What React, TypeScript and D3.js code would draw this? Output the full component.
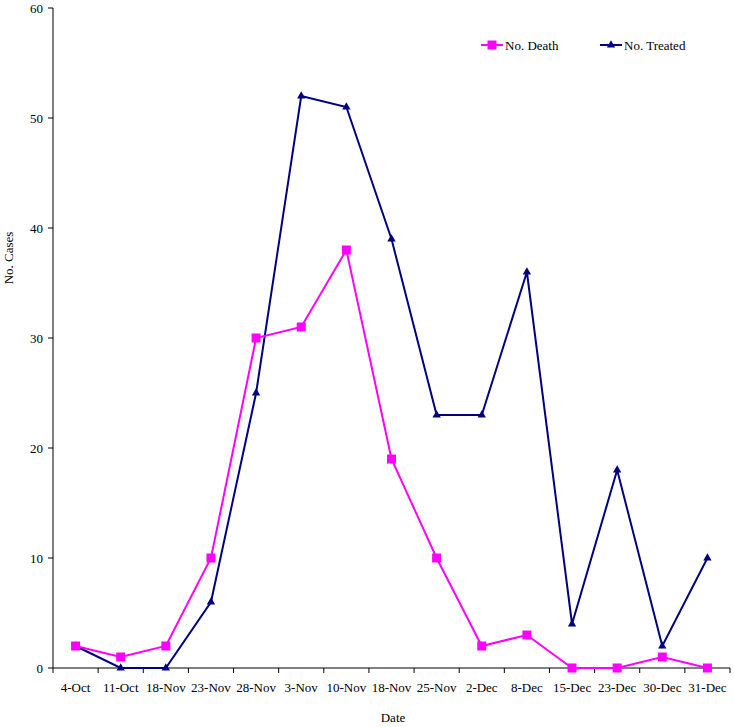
import React from "react";
import * as d3 from "d3";

const categories = ["4-Oct","11-Oct","18-Nov","23-Nov","28-Nov","3-Nov","10-Nov","18-Nov","25-Nov","2-Dec","8-Dec","15-Dec","23-Dec","30-Dec","31-Dec"];
const deaths = [2,1,2,10,30,31,38,19,10,2,3,0,0,1,0];
const treated = [2,0,0,6,25,52,51,39,23,23,36,4,18,2,10];
const yTicks = [0,10,20,30,40,50,60];

const W = 734, H = 727;
const left = 53, right = 730, top = 8, bottom = 668;
const font = "'Liberation Serif', 'Times New Roman', serif";
const PINK = "#FF00FF", NAVY = "#000080";

export default function App() {
  const x = d3.scaleBand<number>().domain(d3.range(categories.length)).range([left, right]);
  const y = d3.scaleLinear().domain([0, 60]).range([bottom, top]);
  const cx = (i: number) => (x(i) as number) + x.bandwidth() / 2;
  const line = d3.line<number>().x((_, i) => cx(i)).y(d => y(d));
  const tri = d3.symbol().type(d3.symbolTriangle).size(30)();
  const edges = d3.range(categories.length + 1).map(i => left + i * x.bandwidth());
  return (
    <svg width={W} height={H} style={{ position: "absolute", left: 0, top: 0, background: "#fff" }} fontFamily={font}>
      <line x1={left} x2={left} y1={top} y2={bottom} stroke="#000" />
      <line x1={left} x2={right} y1={bottom} y2={bottom} stroke="#000" />
      {yTicks.map(t => (
        <g key={t}>
          <line x1={left - 5} x2={left} y1={y(t)} y2={y(t)} stroke="#000" />
          <text x={left - 10} y={y(t)} dy="0.35em" textAnchor="end" fontSize={13}>{t}</text>
        </g>
      ))}
      {edges.map((e, i) => (
        <line key={i} x1={e} x2={e} y1={bottom} y2={bottom + 5} stroke="#000" />
      ))}
      {categories.map((c, i) => (
        <text key={i} x={cx(i)} y={692} textAnchor="middle" fontSize={13}>{c}</text>
      ))}
      <text x={393} y={722} textAnchor="middle" fontSize={13}>Date</text>
      <text transform={`translate(13,${(top + bottom) / 2 - 80}) rotate(-90)`} textAnchor="middle" fontSize={13}>No. Cases</text>
      <path d={line(treated) || ""} fill="none" stroke={NAVY} strokeWidth={2} />
      <path d={line(deaths) || ""} fill="none" stroke={PINK} strokeWidth={2} />
      {treated.map((v, i) => (
        <path key={i} d={tri || ""} transform={`translate(${cx(i)},${y(v)})`} fill={NAVY} />
      ))}
      {deaths.map((v, i) => (
        <rect key={i} x={cx(i) - 4.5} y={y(v) - 4.5} width={9} height={9} fill={PINK} />
      ))}
      <line x1={481} x2={503} y1={45} y2={45} stroke={PINK} strokeWidth={2} />
      <rect x={487.5} y={40.5} width={9} height={9} fill={PINK} />
      <text x={505} y={45} dy="0.35em" fontSize={13}>No. Death</text>
      <line x1={600} x2={622} y1={45} y2={45} stroke={NAVY} strokeWidth={2} />
      <path d={tri || ""} transform="translate(611,45)" fill={NAVY} />
      <text x={624} y={45} dy="0.35em" fontSize={13}>No. Treated</text>
    </svg>
  );
}
